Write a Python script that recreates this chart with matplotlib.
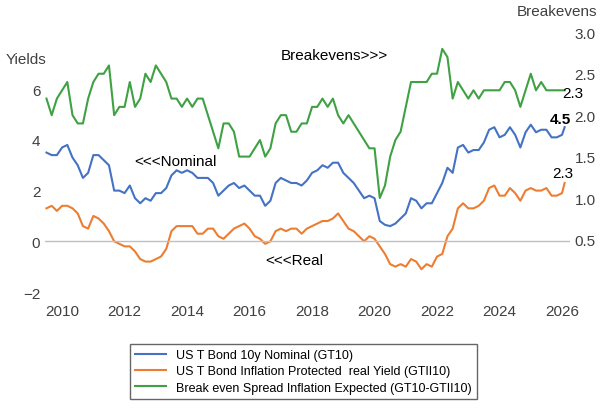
import numpy as np
import matplotlib.pyplot as plt

plt.rcParams["font.family"] = ["Liberation Sans", "DejaVu Sans"]

# bi-monthly from Jul 2009
start = 2009.5
nominal = [3.5, 3.4, 3.4,
           3.7, 3.8, 3.3, 3.0, 2.5, 2.7,
           3.4, 3.4, 3.2, 3.0, 2.0, 2.0,
           1.9, 2.2, 1.7, 1.5, 1.7, 1.6,
           1.9, 1.9, 2.1, 2.6, 2.8, 2.7,
           2.8, 2.7, 2.5, 2.5, 2.5, 2.3,
           1.8, 2.0, 2.2, 2.3, 2.1, 2.2,
           2.0, 1.8, 1.8, 1.4, 1.6, 2.3,
           2.5, 2.4, 2.3, 2.3, 2.2, 2.4,
           2.7, 2.8, 3.0, 2.9, 3.1, 3.1,
           2.7, 2.5, 2.3, 2.0, 1.7, 1.8,
           1.7, 0.8, 0.65, 0.6, 0.7, 0.9,
           1.1, 1.7, 1.6, 1.3, 1.5, 1.5,
           1.9, 2.3, 2.9, 2.7, 3.7, 3.8,
           3.5, 3.6, 3.6, 3.9, 4.4, 4.5,
           4.1, 4.2, 4.5, 4.2, 3.7, 4.3,
           4.6, 4.3, 4.4, 4.4, 4.1, 4.1,
           4.2, 4.5]
real = [1.3, 1.4, 1.2,
        1.4, 1.4, 1.3, 1.1, 0.6, 0.5,
        1.0, 0.9, 0.7, 0.4, 0.0, -0.1,
        -0.2, -0.2, -0.4, -0.7, -0.8, -0.8,
        -0.7, -0.6, -0.3, 0.4, 0.6, 0.6,
        0.6, 0.6, 0.3, 0.3, 0.5, 0.5,
        0.2, 0.1, 0.3, 0.5, 0.6, 0.7,
        0.5, 0.2, 0.1, -0.1, 0.0, 0.4,
        0.5, 0.4, 0.5, 0.5, 0.3, 0.5,
        0.6, 0.7, 0.8, 0.8, 0.9, 1.1,
        0.8, 0.5, 0.4, 0.2, 0.0, 0.2,
        0.1, -0.2, -0.5, -0.9, -1.0, -0.9,
        -1.0, -0.7, -0.8, -1.1, -0.9, -1.0,
        -0.6, -0.5, 0.2, 0.5, 1.3, 1.5,
        1.3, 1.3, 1.4, 1.6, 2.1, 2.2,
        1.8, 1.8, 2.1, 1.9, 1.6, 2.0,
        2.1, 2.0, 2.0, 2.1, 1.8, 1.8,
        1.9, 2.3]
breakeven = [2.2, 2.0, 2.2,
             2.3, 2.4, 2.0, 1.9, 1.9, 2.2,
             2.4, 2.5, 2.5, 2.6, 2.0, 2.1,
             2.1, 2.4, 2.1, 2.2, 2.5, 2.4,
             2.6, 2.5, 2.4, 2.2, 2.2, 2.1,
             2.2, 2.1, 2.2, 2.2, 2.0, 1.8,
             1.6, 1.9, 1.9, 1.8, 1.5, 1.5,
             1.5, 1.6, 1.7, 1.5, 1.6, 1.9,
             2.0, 2.0, 1.8, 1.8, 1.9, 1.9,
             2.1, 2.1, 2.2, 2.1, 2.2, 2.0,
             1.9, 2.0, 1.9, 1.8, 1.7, 1.6,
             1.6, 1.0, 1.15, 1.5, 1.7, 1.8,
             2.1, 2.4, 2.4, 2.4, 2.4, 2.5,
             2.5, 2.8, 2.7, 2.2, 2.4, 2.3,
             2.2, 2.3, 2.2, 2.3, 2.3, 2.3,
             2.3, 2.4, 2.4, 2.3, 2.1, 2.3,
             2.5, 2.3, 2.4, 2.3, 2.3, 2.3,
             2.3, 2.3]
dates = start + np.arange(len(nominal)) / 6.0
dates[-1] = dates[-2] + 1 / 12

fig = plt.figure(figsize=(6.03, 4.10), dpi=100)
ax = fig.add_axes([0.075, 0.268, 0.87, 0.671])
ax2 = ax.twinx()

ax.plot(dates, nominal, color="#4472C4", lw=1.5, label="US T Bond 10y Nominal (GT10)")
ax.plot(dates, real, color="#ED7D31", lw=1.5, label="US T Bond Inflation Protected  real Yield (GTII10)")
ax2.plot(dates, breakeven, color="#3FA143", lw=1.5, label="Break even Spread Inflation Expected (GT10-GTII10)")
ax.axhline(0, color="#BFBFBF", lw=1)

ax.set_xlim(2009.46, 2026.25)
ax.set_ylim(-2.28, 8.57)
ax2.set_ylim(-0.22, 3.1)
ax.set_xticks(range(2010, 2027, 2))
ax.set_yticks([-2, 0, 2, 4, 6])
ax2.set_yticks([0.5, 1.0, 1.5, 2.0, 2.5, 3.0])
ax2.set_yticklabels(["0.5", "1.0", "1.5", "2.0", "2.5", "3.0"])
for a in (ax, ax2):
    for s in a.spines.values():
        s.set_visible(False)
    a.tick_params(length=0, labelsize=11, colors="#404040")

fig.text(0.01, 0.845, "Yields", fontsize=11, color="#404040")
fig.text(0.99, 0.96, "Breakevens", fontsize=11, color="#404040", ha="right")
ax.text(2017.0, 7.2, "Breakevens>>>", fontsize=11)
ax.text(2012.3, 3.0, "<<<Nominal", fontsize=11)
ax.text(2016.5, -0.9, "<<<Real", fontsize=11)
ax.text(2025.6, 4.65, "4.5", fontsize=11, fontweight="bold")
ax.text(2025.7, 2.55, "2.3", fontsize=11)
ax2.text(2026.0, 2.22, "2.3", fontsize=11)

h1, l1 = ax.get_legend_handles_labels()
h2, l2 = ax2.get_legend_handles_labels()
fig.legend(h1 + h2, l1 + l2, loc="lower left", bbox_to_anchor=(0.205, 0.01),
           fontsize=9, frameon=True, fancybox=False, edgecolor="#404040",
           handlelength=2.5, borderpad=0.4, labelspacing=0.35)

fig.savefig("out.png", dpi=100)
